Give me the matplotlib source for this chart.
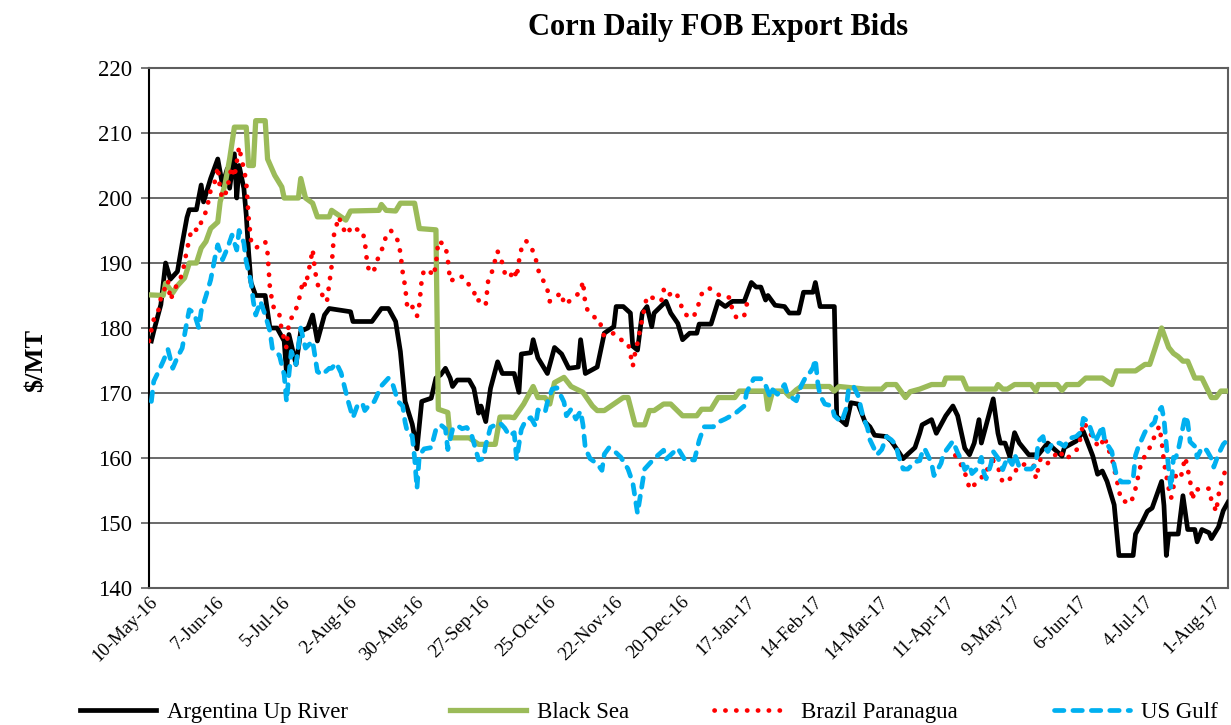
import numpy as np
import matplotlib
matplotlib.use("Agg")
import matplotlib.pyplot as plt
from matplotlib.lines import Line2D

# ---------------- data (days since 10-May-2016, $/MT) ----------------
START = np.datetime64("2016-05-10")
END_DAY = 455

ARG_DAYS = [1, 2, 5, 7, 9, 12, 14, 16, 17, 20, 22, 23, 26, 29, 31, 33, 34, 36, 37, 38, 40, 41, 42, 43, 45, 49,
            51, 54, 57, 58, 59, 62, 64, 67, 69, 71, 74, 76, 85, 86, 94, 98, 101, 104, 106, 108, 111, 113, 115,
            119, 121, 123, 125, 127, 128, 130, 135, 137, 139, 140, 142, 144, 147, 149, 152, 154, 156, 157, 161,
            162, 164, 168, 171, 174, 177, 181, 182, 184, 189, 192, 196, 197, 200, 203, 204, 206, 208, 210, 212,
            213, 218, 220, 223, 225, 228, 231, 232, 237, 240, 243, 246, 251, 254, 256, 258, 260, 261, 264, 268,
            270, 274, 276, 280, 281, 283, 289, 290, 294, 296, 299, 302, 304, 306, 311, 313, 316, 318, 320, 323,
            325, 326, 330, 332, 336, 339, 341, 344, 346, 348, 350, 351, 356, 358, 359, 361, 363, 365, 367, 371,
            375, 379, 381, 385, 386, 391, 394, 398, 400, 402, 404, 407, 409, 415, 416, 419, 421, 423, 427, 428,
            429, 430, 434, 436, 438, 441, 442, 444, 447, 448, 451, 453, 455]
ARG_VALS = [178, 179.5, 183.6, 190, 187.5, 188.7, 193, 197, 198.2, 198.2, 202, 199.4, 203, 206, 202, 204.5, 201.5,
            206.8, 200, 205, 201.5, 197.4, 191.7, 187, 185, 185, 180, 180, 178, 173, 179, 174.4, 179.5, 180, 182,
            178, 182, 183, 182.5, 181, 181, 183, 183, 181, 176.4, 168.7, 165.2, 161.4, 168.7, 169.2, 172.3, 172.8,
            173.8, 172.3, 171, 172, 172, 170.7, 166.9, 168, 165.6, 170.7, 174.8, 173, 173, 173, 170.1, 176, 176.2,
            178.2, 175.4, 173, 177, 176, 173.8, 174, 178.2, 173, 174, 179.2, 180.2, 183.3, 183.3, 182.3, 177.2,
            176.6, 182.3, 183.3, 180.2, 182.3, 184.1, 182.3, 180.7, 178.2, 179.2, 179.2, 180.6, 180.6, 184.1,
            183.3, 184.1, 184.1, 187, 186.3, 186.3, 184.3, 185, 183.5, 183.3, 182.3, 182.3, 185.5, 185.5, 187,
            183.3, 183.3, 166.4, 165.1, 168.5, 168.3, 165.5, 164.8, 163.5, 163.3, 162.6, 161, 159.9, 160.6, 161.6,
            163.8, 165.1, 165.9, 163.8, 166.5, 168, 166.5, 161.5, 160.5, 162.3, 165.9, 162.3, 169.1, 163.8, 162.3,
            162.3, 160.2, 163.9, 162.3, 160.5, 160.5, 162.3, 161.6, 160.3, 161.6, 162.6, 164.1, 160.3, 157.5, 158,
            156.4, 152.8, 145, 145, 148.3, 150.3, 151.8, 152.3, 156.4, 152.7, 145, 148.3, 148.3, 154.2, 149, 149,
            147.1, 149, 148.5, 147.6, 149.4, 151.9, 153.2]

BS_DAYS = [0, 6, 7, 10, 12, 15, 17, 20, 22, 24, 26, 29, 30, 32, 34, 36, 41, 42, 44, 45, 49, 50, 53, 56, 57, 63, 64,
           66, 69, 71, 76, 77, 83, 85, 97, 98, 100, 104, 106, 112, 114, 121, 122, 126, 127, 135, 139, 146, 148,
           152, 154, 158, 162, 164, 167, 169, 171, 175, 178, 183, 187, 189, 192, 196, 200, 202, 205, 209, 211, 213,
           217, 220, 225, 231, 233, 237, 240, 247, 249, 260, 261, 263, 268, 270, 273, 275, 287, 289, 291, 302, 309,
           311, 315, 319, 321, 325, 330, 335, 336, 343, 345, 357, 358, 360, 362, 365, 372, 374, 375, 383, 385, 387,
           392, 395, 402, 406, 408, 416, 420, 422, 424, 427, 430, 432, 434, 436, 438, 441, 444, 448, 450, 452, 455]
BS_VALS = [185.1, 185, 186.9, 185.4, 186.5, 187.7, 190, 190, 192.3, 193.3, 195.3, 196.3, 199.4, 202, 206, 210.9,
           210.9, 205, 205, 211.9, 211.9, 206, 203.5, 201.7, 200, 200, 203, 200, 199.2, 197.1, 197.1, 198.1, 196.6,
           198, 198.1, 199, 198.1, 198, 199.2, 199.2, 195.3, 195.1, 167.5, 167, 163.1, 163.1, 162.1, 162.1, 166.3,
           166.3, 166.2, 168.3, 171, 169.3, 169.3, 168.3, 171.6, 172.4, 171, 170.1, 168, 167.3, 167.3, 168.3, 169.3,
           169.3, 165.1, 165.1, 167.3, 167.3, 168.3, 168.3, 166.5, 166.5, 167.5, 167.5, 169.3, 169.3, 170.3, 170.3,
           167.5, 170.3, 170.3, 169.5, 170.5, 171, 171, 170.3, 171, 170.6, 170.6, 171.3, 171.3, 169.3, 170.2, 170.6,
           171.3, 171.3, 172.3, 172.3, 170.6, 170.6, 171.3, 170.6, 170.6, 171.3, 171.3, 170.3, 171.3, 171.3, 170.4,
           171.3, 171.3, 172.3, 172.3, 171.3, 173.4, 173.4, 174.4, 174.4, 176.6, 180, 177, 176.1, 175.6, 174.9,
           174.9, 172.3, 172.3, 169.3, 169.3, 170.3, 170.3]

BR_DAYS = [0, 2, 4, 5, 7, 8, 9, 12, 14, 16, 18, 21, 22, 24, 25, 26, 28, 29, 30, 31, 33, 34, 35, 36, 38, 39, 40, 41,
           42, 43, 45, 48, 49, 50, 51, 52, 53, 55, 56, 57, 58, 59, 61, 63, 64, 65, 66, 67, 68, 69, 70, 71, 72, 75,
           77, 78, 80, 82, 84, 85, 87, 90, 91, 92, 93, 95, 97, 99, 100, 102, 105, 106, 107, 108, 109, 111, 113, 114,
           115, 116, 119, 120, 121, 122, 125, 126, 127, 128, 130, 133, 135, 137, 138, 140, 142, 143, 145, 146, 147,
           149, 150, 152, 154, 155, 156, 157, 159, 161, 163, 164, 166, 168, 169, 171, 174, 175, 178, 180, 182, 183,
           184, 185, 186, 188, 190, 191, 192, 196, 199, 202, 203, 204, 205, 206, 207, 208, 209, 210, 212, 216, 217,
           218, 222, 224, 225, 228, 230, 232, 233, 236, 239, 242, 245, 246, 248, 251, 252, 255,
           300,
           340, 343, 345, 346, 349, 351, 352, 354, 356, 358, 360, 363, 365, 366, 368, 371, 373, 374, 376, 379, 384,
           386, 389, 392, 394, 396, 398, 399, 401, 403, 404, 406, 407, 408, 409, 410, 414, 416, 418, 420, 422, 424,
           426, 427, 428, 429, 430, 431, 433, 435, 436, 437, 438, 439, 440, 441, 443, 447, 448, 449, 450, 451, 452,
           453, 455]
BR_VALS = [178, 181.3, 182.8, 184.6, 186.4, 187.3, 184.3, 186.9, 188.2, 192, 195.3, 195, 196.3, 197.9, 199.4, 201.2,
           202.7, 204.8, 201.2, 199.9, 201.2, 203.5, 204.8, 203.2, 207.9, 206, 204.5, 202.5, 197, 193.5, 192.3, 193,
           193.3, 191.5, 186.1, 184.1, 182.5, 182, 179.5, 178.4, 176.9, 181, 182, 183.9, 185.7, 187.3, 186.4, 188.2,
           190, 192.1, 188.8, 186.9, 185.7, 184, 189.5, 194.3, 197.1, 195.2, 194.4, 195.6, 195.2, 195, 193.3, 190,
           188.5, 189, 191.2, 192.7, 194.3, 195, 193.4, 191.6, 188.5, 186.4, 182.9, 183.3, 181.8, 183.6, 187.4, 189,
           188.5, 188, 189.8, 193.4, 192.7, 190.5, 187.2, 187.4, 188, 187.8, 186.6, 185.7, 184.1, 184.4, 183.6,
           187.2, 189, 190.5, 191.8, 190, 188.5, 187.7, 189, 187.7, 190.3, 192.1, 193.4, 192.6, 190.8, 189, 187.5,
           185.9, 184.1, 184.7, 185.4, 183.6, 184.3, 184.9, 185.7, 187.2, 183.6, 182.7, 182.5, 181.6, 181.3, 179.6,
           178.7, 179.2, 178.2, 177.7, 176, 174.1, 176.2, 177.7, 179.6, 181.4, 183.2, 184.9, 184.7, 184.1, 185.9,
           184.9, 185.6, 184.1, 182.6, 181.5, 182, 183.9, 185.2, 186.2, 185.4, 184.7, 184.7, 182.7, 181.4, 181.9,
           183.6, 184.7,
           np.nan,
           160.4, 158.6, 156.8, 155.2, 156.2, 156.8, 158.1, 158.3, 159.6, 158.6, 156.2, 156.8, 157.4, 158.6, 158.9,
           159.2, 158.9, 156.8, 160, 159.2, 161.2, 159.8, 160.4, 161.6, 165.5, 164.5, 163, 162.4, 161.6, 163.3,
           161.8, 160.1, 158.3, 156.8, 155, 153.5, 153, 155.3, 158.6, 160.4, 161.6, 163.3, 164.9, 162.7, 159.4,
           157.3, 155.3, 153.8, 157.3, 156.8, 158.6, 160.1, 158.3, 156.6, 153.5, 155.3, 155.1, 155.3, 153.5, 152.8,
           151.7, 154.3, 156, 157.3, 158.8]

US_DAYS = [1, 2, 4, 6, 8, 10, 12, 14, 16, 17, 19, 21, 22, 24, 26, 28, 29, 31, 33, 35, 37, 38, 40, 41, 43, 44, 45,
           47, 49, 51, 52, 53, 55, 57, 58, 59, 60, 62, 64, 66, 69, 71, 73, 76, 77, 79, 81, 82, 84, 86, 88, 90, 91,
           93, 95, 98, 101, 103, 105, 107, 108, 109, 111, 112, 113, 114, 116, 119, 121, 123, 125, 126, 128, 130,
           132, 134, 136, 139, 141, 142, 144, 146, 148, 150, 152, 154, 155, 157, 159, 161, 163, 164, 167, 168, 170,
           172, 173, 175, 176, 178, 180, 182, 183, 184, 186, 189, 191, 192, 194, 197, 199, 202, 204, 206, 209, 213,
           217, 218, 223, 226, 230, 232, 234, 238, 240, 243, 247, 251, 252, 255, 258, 260, 262, 263, 265, 268, 269,
           271, 273, 275, 277, 279, 280, 281, 282, 283, 285, 288, 289, 292, 294, 295, 297, 299, 301, 303, 304, 307,
           309, 311, 313, 315, 316, 318, 320, 323, 325, 326, 327, 330, 331, 332, 334, 335, 337, 339, 341, 343, 344,
           346, 347, 349, 351, 352, 353, 355, 356, 358, 360, 362, 364, 365, 367, 370, 372, 374, 375, 377, 378, 379,
           381, 384, 386, 388, 391, 393, 394, 396, 398, 399, 401, 402, 403, 406, 407, 408, 410, 414, 415, 416, 417,
           420, 422, 424, 425, 427, 428, 429, 430, 431, 432, 433, 434, 437, 438, 439, 441, 442, 444, 446, 448, 449,
           451, 453, 455]
US_VALS = [168.7, 171.8, 173.3, 174.9, 176.7, 173.8, 175.5, 176.9, 181, 182.8, 182.3, 180, 182.6, 184.9, 187.4,
           191.2, 192.8, 190.5, 192.2, 194.3, 192, 195, 193.1, 190.2, 187.1, 184.1, 182, 184.1, 182, 179.5, 176.9,
           176.4, 175.8, 172.8, 168.7, 172.8, 176.4, 174.4, 180, 176.9, 178, 173.3, 172.8, 173.8, 173.8, 174.6,
           173.1, 171.6, 168.7, 166.2, 168.2, 168.4, 167.3, 168.2, 168.7, 171.1, 172.3, 171.1, 168.7, 168, 165.5,
           163.9, 163.4, 160, 155.3, 160.4, 161.4, 161.6, 164.4, 165.1, 164.5, 161.3, 164.4, 165, 164.5, 164.7,
           163.6, 159.7, 159.9, 162, 164.7, 165.1, 165.4, 164.6, 163.4, 163.9, 159.8, 164.4, 165.9, 166.2, 164.9,
           167.4, 167, 168.6, 170.6, 170.8, 170.1, 168.6, 166.5, 167.5, 166, 167.2, 165.1, 161.5, 159.9, 159.1,
           158.1, 160.6, 161.6, 160.8, 160.1, 158.3, 156.2, 151.5, 158.3, 159.9, 161.2, 159.8, 161.5, 159.7, 159.7,
           162.7, 164.8, 164.8, 165.5, 166, 166.8, 168, 170.1, 172.2, 172.2, 171.2, 169.3, 170.5, 169.8, 171.3,
           170.1, 169.3, 168.8, 171.1, 172.5, 173.3, 173.9, 175.2, 171.6, 169.6, 168.3, 168, 166.5, 165.5, 167.6,
           170.6, 171.1, 169.6, 166.5, 164.6, 162.8, 160.5, 161.3, 163.3, 162.8, 162, 160.4, 158.3, 158.3, 159.4,
           159.6, 160.8, 161.5, 159.2, 157.3, 157.8, 159.2, 160.6, 161.6, 162.6, 160.8, 159.4, 158.2, 159, 157.6,
           158.3, 160.1, 157.8, 156.8, 159, 161, 160, 158.2, 160.1, 159, 160.6, 158.6, 158.3, 158.3, 159, 162.6,
           163.3, 161.5, 161, 162.3, 162.3, 161.8, 163, 163.3, 164, 166.1, 165.6, 163.5, 162.5, 164, 165, 162.7,
           161, 158.9, 157.3, 156.3, 156.3, 156.8, 160.4, 161.5, 164, 164.8, 165.5, 166.8, 167.8, 166, 162, 158.1,
           155.3, 160.1, 160.1, 161.2, 166.5, 165.5, 162.5, 161.8, 160.1, 161.6, 161.2, 159.9, 158.6, 160.6, 162.1,
           162.9]

TICK_LABELS = ["10-May-16", "7-Jun-16", "5-Jul-16", "2-Aug-16", "30-Aug-16", "27-Sep-16", "25-Oct-16",
               "22-Nov-16", "20-Dec-16", "17-Jan-17", "14-Feb-17", "14-Mar-17", "11-Apr-17", "9-May-17",
               "6-Jun-17", "4-Jul-17", "1-Aug-17"]
TICK_STEP_DAYS = 28
SERIES_NAMES = ["Argentina Up River", "Black Sea", "Brazil Paranagua", "US Gulf"]
TITLE = "Corn Daily FOB Export Bids"
YLABEL = "\\$/MT"

# ---------------- styling ----------------
SERIF = "Liberation Serif"
plt.rcParams["font.family"] = [SERIF, "DejaVu Serif"]

C_ARG = "#000000"
C_BS = "#9BBB59"
C_BR = "#FF0000"
C_US = "#00B0F0"


def to_dates(days):
    return START + np.array(days, dtype="timedelta64[D]")


fig = plt.figure(figsize=(12.31, 7.25), dpi=100)
ax = fig.add_axes([149 / 1231, 1 - 588 / 725, (1228 - 149) / 1231, (588 - 68) / 725])

lw = 3.4
ax.plot(to_dates(ARG_DAYS), ARG_VALS, color=C_ARG, lw=lw, solid_joinstyle="round", zorder=3,
        label=SERIES_NAMES[0])
ax.plot(to_dates(BS_DAYS), BS_VALS, color=C_BS, lw=lw + 0.4, solid_joinstyle="round", zorder=4,
        label=SERIES_NAMES[1])
ax.plot(to_dates(BR_DAYS), BR_VALS, color=C_BR, lw=lw, linestyle=(0, (0.05, 2.25)),
        dash_capstyle="round", zorder=5, label=SERIES_NAMES[2])
ax.plot(to_dates(US_DAYS), US_VALS, color=C_US, lw=lw, linestyle=(0, (2.0, 1.9)),
        dash_capstyle="round", zorder=6, label=SERIES_NAMES[3])

ax.set_xlim(START, START + np.timedelta64(END_DAY, "D"))
ax.set_ylim(140, 220)
ax.set_yticks(np.arange(140, 221, 10))
ax.yaxis.grid(True, color="#5e5e5e", lw=1.3, zorder=0)
ax.set_axisbelow(True)

tick_pos = START + np.arange(len(TICK_LABELS)) * np.timedelta64(TICK_STEP_DAYS, "D")
ax.set_xticks(tick_pos)
ax.set_xticklabels(TICK_LABELS, rotation=45, ha="right", rotation_mode="anchor", fontsize=13.5)
ax.tick_params(axis="x", length=0, pad=4)
ax.tick_params(axis="y", length=6, width=1.2, labelsize=16.5, pad=6, color="#5e5e5e")

ax.spines["left"].set_color("#000000")
ax.spines["left"].set_linewidth(1.5)
for side in ["bottom", "right", "top"]:
    ax.spines[side].set_color("#5e5e5e")
    ax.spines[side].set_linewidth(1.5)

fig.text(718 / 1231, 1 - 28 / 725, TITLE, ha="center", va="center", fontsize=22, fontweight="bold")
fig.text(36 / 1231, 1 - 360 / 725, YLABEL, ha="center", va="center", rotation=90, fontsize=19,
         fontweight="bold")

# legend entries placed individually
handles = [
    Line2D([], [], color=C_ARG, lw=lw),
    Line2D([], [], color=C_BS, lw=lw + 0.4),
    Line2D([], [], color=C_BR, lw=lw, linestyle=(0, (0.05, 2.25)), dash_capstyle="round"),
    Line2D([], [], color=C_US, lw=lw, linestyle=(0, (2.0, 1.9)), dash_capstyle="round"),
]
starts_px = [80, 450, 714, 1054]
for h, name, x0 in zip(handles, SERIES_NAMES, starts_px):
    fig.legend([h], [name], loc="center left", bbox_to_anchor=(x0 / 1231, 1 - 712 / 725),
               frameon=False, fontsize=16.5, handlelength=3.3, handletextpad=0.5, borderaxespad=0,
               borderpad=0)

fig.savefig("out.png", dpi=100)
